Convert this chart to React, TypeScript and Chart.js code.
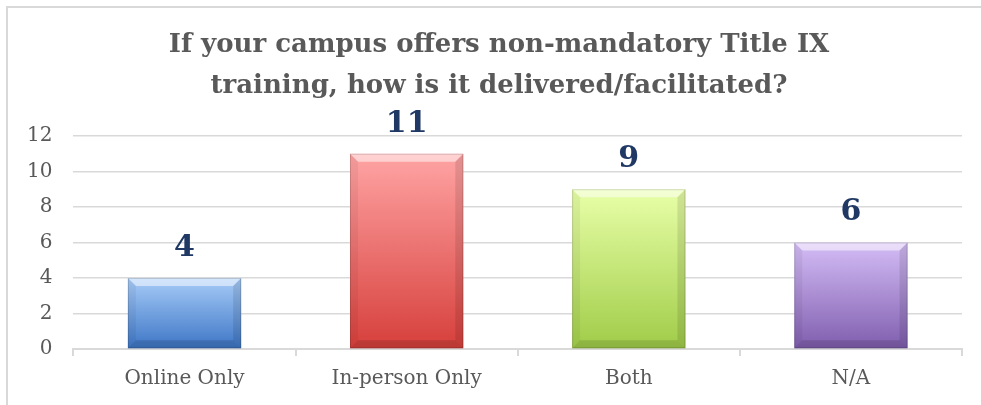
import React, { useEffect, useRef } from "react";
import { Chart, registerables } from "chart.js";

Chart.register(...registerables);

const categories = ["Online Only", "In-person Only", "Both", "N/A"];
const values = [4, 11, 9, 6];
const yMin = 0;
const yMax = 12;
const yStep = 2;
const titleLines = [
  "If your campus offers non-mandatory Title IX",
  "training, how is it delivered/facilitated?",
];

const barTop = ["#A8CCF8", "#FFA4A4", "#E8FFA8", "#D4BDF6"];
const barBottom = ["#3C75C5", "#D63F3B", "#A0CC48", "#7F5DAE"];

const SERIF = "'DejaVu Serif', serif";
const TEXT = "#595959";
const GRID = "#D9D9D9";
const LABEL = "#1F3864";

const framePlugin = {
  id: "frame",
  beforeDraw(chart: any) {
    const { ctx, width, height } = chart;
    ctx.save();
    ctx.fillStyle = "#FFFFFF";
    ctx.fillRect(0, 0, width, height);
    ctx.strokeStyle = GRID;
    ctx.lineWidth = 2;
    ctx.beginPath();
    ctx.moveTo(7, height + 5);
    ctx.lineTo(7, 7);
    ctx.lineTo(width + 5, 7);
    ctx.stroke();
    ctx.restore();
  },
};

const titlePlugin = {
  id: "customTitle",
  afterDraw(chart: any) {
    const { ctx } = chart;
    ctx.save();
    ctx.fillStyle = TEXT;
    ctx.font = `bold 26px ${SERIF}`;
    ctx.textAlign = "center";
    ctx.textBaseline = "middle";
    titleLines.forEach((line, i) => ctx.fillText(line, 499, 45 + i * 41));
    ctx.restore();
  },
};

const bevelPlugin = {
  id: "bevelLabels",
  afterDatasetsDraw(chart: any) {
    const { ctx } = chart;
    const meta = chart.getDatasetMeta(0);
    ctx.save();
    meta.data.forEach((el: any, i: number) => {
      const { x, y, base, width } = el.getProps(["x", "y", "base", "width"], true);
      const l = x - width / 2;
      const r = x + width / 2;
      const b = 8;
      ctx.fillStyle = "rgba(255,255,255,0.5)";
      ctx.beginPath();
      ctx.moveTo(l, y);
      ctx.lineTo(r, y);
      ctx.lineTo(r - b, y + b);
      ctx.lineTo(l + b, y + b);
      ctx.closePath();
      ctx.fill();
      ctx.fillStyle = "rgba(0,0,0,0.05)";
      ctx.beginPath();
      ctx.moveTo(l, y);
      ctx.lineTo(l + b, y + b);
      ctx.lineTo(l + b, base - b);
      ctx.lineTo(l, base);
      ctx.closePath();
      ctx.fill();
      ctx.fillStyle = "rgba(0,0,0,0.1)";
      ctx.beginPath();
      ctx.moveTo(r, y);
      ctx.lineTo(r - b, y + b);
      ctx.lineTo(r - b, base - b);
      ctx.lineTo(r, base);
      ctx.closePath();
      ctx.fill();
      ctx.fillStyle = "rgba(0,0,0,0.12)";
      ctx.beginPath();
      ctx.moveTo(l, base);
      ctx.lineTo(l + b, base - b);
      ctx.lineTo(r - b, base - b);
      ctx.lineTo(r, base);
      ctx.closePath();
      ctx.fill();
      ctx.strokeStyle = "rgba(0,0,0,0.15)";
      ctx.lineWidth = 1;
      ctx.strokeRect(l + 0.5, y + 0.5, width - 1, base - y - 1);
      ctx.fillStyle = LABEL;
      ctx.font = `bold 30px ${SERIF}`;
      ctx.textAlign = "center";
      ctx.textBaseline = "middle";
      ctx.fillText(String(values[i]), x, y - 30);
    });
    ctx.restore();
  },
};

function gradientFor(context: any) {
  const i = context.dataIndex ?? 0;
  const chart = context.chart;
  const ys = chart.scales && chart.scales.y;
  if (!ys || ys.top === undefined) return barBottom[i];
  const top = ys.getPixelForValue(values[i]);
  const bot = ys.getPixelForValue(0);
  if (!isFinite(top) || !isFinite(bot)) return barBottom[i];
  const g = chart.ctx.createLinearGradient(0, top, 0, bot);
  g.addColorStop(0, barTop[i]);
  g.addColorStop(1, barBottom[i]);
  return g;
}

export default function App() {
  const ref = useRef<HTMLCanvasElement | null>(null);
  useEffect(() => {
    if (!ref.current) return;
    const chart = new Chart(ref.current, {
      type: "bar",
      data: {
        labels: categories,
        datasets: [
          {
            data: values,
            backgroundColor: gradientFor as any,
            borderWidth: 0,
            barPercentage: 0.51,
            categoryPercentage: 1,
          },
        ],
      },
      options: {
        responsive: false,
        animation: false,
        layout: { padding: { left: 6, right: 19, top: 136, bottom: 3 } },
        plugins: {
          legend: { display: false },
          title: { display: false },
          tooltip: { enabled: false },
        },
        scales: {
          x: {
            grid: {
              offset: true,
              drawOnChartArea: false,
              tickLength: 7,
              color: GRID,
              lineWidth: 2,
            },
            border: { display: true, color: GRID, width: 2 },
            ticks: { font: { family: SERIF, size: 20 }, color: TEXT, padding: 11 },
          },
          y: {
            min: yMin,
            max: yMax,
            ticks: { stepSize: yStep, font: { family: SERIF, size: 20 }, color: TEXT, padding: 21 },
            grid: { color: GRID, lineWidth: 1.5, drawTicks: false },
            border: { display: false },
          },
        },
      },
      plugins: [framePlugin, titlePlugin, bevelPlugin],
    });
    return () => chart.destroy();
  }, []);
  return (
    <div style={{ position: "fixed", left: 0, top: 0, width: 981, height: 405 }}>
      <canvas ref={ref} width={981} height={405} style={{ width: 981, height: 405, display: "block" }} />
    </div>
  );
}
